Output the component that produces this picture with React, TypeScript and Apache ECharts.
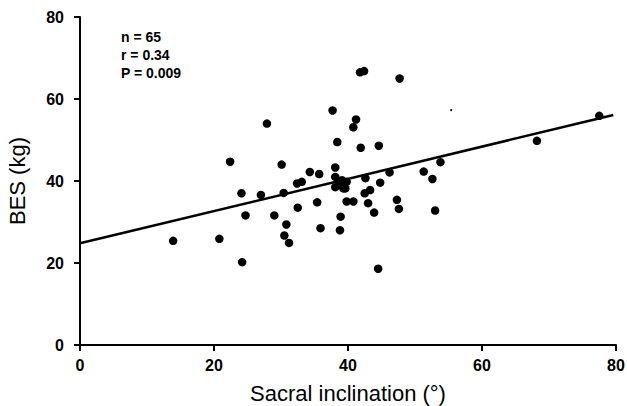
import React, { useEffect, useRef } from "react";
import * as echarts from "echarts";

const xTicks = [0, 20, 40, 60, 80];
const yTicks = [0, 20, 40, 60, 80];

const sacralInclination = [
  13.9, 20.8, 24.1, 24.7, 24.2, 27.0, 29.0, 27.9, 22.4, 30.1,
  30.4, 30.8, 30.5, 31.2, 32.4, 33.1, 32.5, 34.3, 35.7, 35.4,
  35.9, 37.7, 38.4, 38.1, 38.1, 38.8, 38.1, 39.3, 38.9, 38.8,
  39.8, 40.8, 40.8, 41.2, 41.8, 42.4, 41.9, 42.6, 42.5, 43.3,
  43.0, 43.9, 44.6, 44.8, 44.5, 46.2, 47.3, 47.6, 47.7, 51.3,
  52.6, 53.0, 53.8, 68.2, 77.5, 39.8, 39.1, 39.6,
];
const bes = [
  25.4, 25.9, 37.0, 31.6, 20.2, 36.6, 31.6, 54.0, 44.7, 44.0,
  37.1, 29.4, 26.7, 24.9, 39.4, 39.8, 33.5, 42.2, 41.7, 34.8,
  28.5, 57.2, 49.5, 43.3, 41.0, 39.4, 38.5, 38.2, 31.3, 28.0,
  35.0, 35.0, 53.1, 55.0, 66.5, 66.8, 48.1, 40.7, 37.0, 37.8,
  34.6, 32.3, 48.6, 39.6, 18.6, 42.1, 35.4, 33.2, 65.0, 42.3,
  40.5, 32.8, 44.6, 49.8, 55.9, 39.8, 40.2, 38.2,
];

const fitX = [0, 79.6];
const fitY = [24.8, 56.1];

const speckX = [55.4];
const speckY = [57.3];

const statsLines = ["n = 65", "r = 0.34", "P = 0.009"];

const xTitle = "Sacral inclination (°)";
const yTitle = "BES (kg)";

const FONT = "'Liberation Sans', Arial, Helvetica, sans-serif";

export default function App() {
  const ref = useRef<HTMLDivElement>(null);
  useEffect(() => {
    if (!ref.current) return;
    const chart = echarts.init(ref.current, undefined, { renderer: "svg" });
    const points = sacralInclination.map((x, i) => [x, bes[i]]);
    const fit = fitX.map((x, i) => [x, fitY[i]]);
    const speck = speckX.map((x, i) => [x, speckY[i]]);
    chart.setOption({
      animation: false,
      backgroundColor: "#ffffff",
      grid: {
        left: 80,
        right: 11,
        top: 17,
        bottom: 61,
        containLabel: false,
        outerBoundsMode: "none",
      },
      xAxis: {
        type: "value",
        min: xTicks[0],
        max: xTicks[xTicks.length - 1],
        interval: 20,
        name: xTitle,
        nameLocation: "middle",
        nameGap: 37,
        nameTextStyle: { fontFamily: FONT, fontSize: 22, color: "#000000" },
        axisLine: { show: true, lineStyle: { color: "#000", width: 2 } },
        axisTick: { show: true, length: 6, lineStyle: { color: "#000", width: 2 } },
        axisLabel: { fontFamily: FONT, fontSize: 16, fontWeight: "bold", color: "#000", margin: 12 },
        splitLine: { show: false },
      },
      yAxis: {
        type: "value",
        min: yTicks[0],
        max: yTicks[yTicks.length - 1],
        interval: 20,
        name: yTitle,
        nameLocation: "middle",
        nameGap: 52,
        nameTextStyle: { fontFamily: FONT, fontSize: 22, color: "#000000" },
        axisLine: { show: true, lineStyle: { color: "#000", width: 2 } },
        axisTick: { show: true, length: 6, lineStyle: { color: "#000", width: 2 } },
        axisLabel: { fontFamily: FONT, fontSize: 16, fontWeight: "bold", color: "#000", margin: 16 },
        splitLine: { show: false },
      },
      graphic: statsLines.map((t, i) => ({
        type: "text",
        left: 121,
        top: 30 + i * 18,
        style: {
          text: t,
          fontFamily: FONT,
          fontSize: 14,
          fontWeight: "bold",
          fill: "#000",
        },
      })),
      series: [
        {
          type: "scatter",
          data: points,
          symbol: "circle",
          symbolSize: 8.5,
          itemStyle: { color: "#000", opacity: 1 },
        },
        {
          type: "scatter",
          data: speck,
          symbol: "circle",
          symbolSize: 2,
          itemStyle: { color: "#000", opacity: 1 },
        },
        {
          type: "line",
          data: fit,
          showSymbol: false,
          symbol: "none",
          lineStyle: { color: "#000", width: 2.5 },
        },
      ],
    });
    return () => chart.dispose();
  }, []);
  return (
    <div
      ref={ref}
      style={{ position: "fixed", left: 0, top: 0, width: 627, height: 406 }}
    />
  );
}
